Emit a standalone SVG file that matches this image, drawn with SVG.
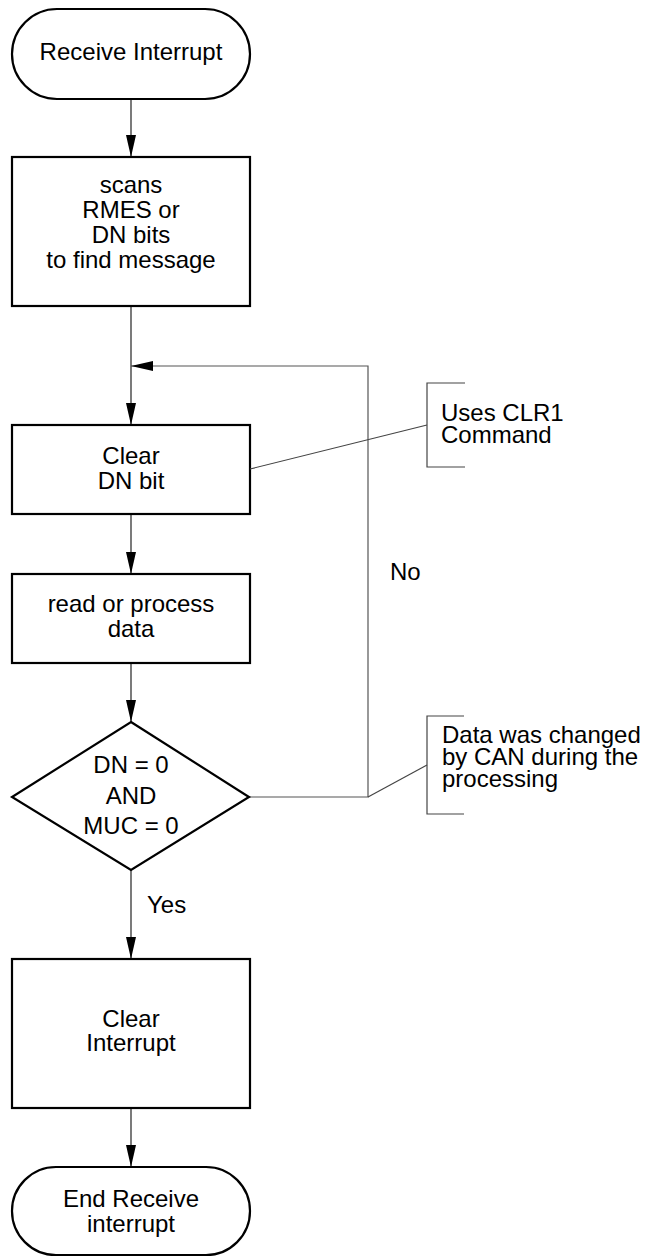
<svg xmlns="http://www.w3.org/2000/svg" width="650" height="1257" viewBox="0 0 650 1257">
<style>
.node{fill:#fff;stroke:#000;stroke-width:2.2}
.t{font-family:"Liberation Sans",Arial,sans-serif;font-size:24px;fill:#000}
.c{text-anchor:middle}
.ln{fill:none;stroke:#222;stroke-width:1.2}
.fb{fill:none;stroke:#555;stroke-width:1.2}
.br{fill:none;stroke:#444;stroke-width:1.2}
</style>
<defs>
<marker id="arr" markerUnits="userSpaceOnUse" markerWidth="24" markerHeight="12" refX="22" refY="5" orient="auto">
<path d="M0,0 L22,5 L0,10 Z" fill="#000"/>
</marker>
</defs>
<rect width="650" height="1257" fill="#fff"/>
<g id="connectors">
<line class="ln" x1="131" y1="99" x2="131" y2="157" marker-end="url(#arr)"/>
<line class="ln" x1="131" y1="306" x2="131" y2="425" marker-end="url(#arr)"/>
<polyline class="fb" points="249,797 368,797 368,366 131,366" marker-end="url(#arr)"/>
<line class="ln" x1="131" y1="514" x2="131" y2="574" marker-end="url(#arr)"/>
<line class="ln" x1="131" y1="663" x2="131" y2="722" marker-end="url(#arr)"/>
<line class="ln" x1="131" y1="870" x2="131" y2="959" marker-end="url(#arr)"/>
<line class="ln" x1="131" y1="1108" x2="131" y2="1167" marker-end="url(#arr)"/>
<text class="t" x="390" y="580">No</text>
<text class="t" x="147" y="913">Yes</text>
</g>
<g id="start">
<rect class="node" x="12" y="9" width="238" height="90" rx="45" ry="45"/>
<text class="t c" x="131" y="60">Receive Interrupt</text>
</g>
<g id="scan">
<rect class="node" x="12" y="157" width="238" height="149"/>
<text class="t c" x="131" y="193">scans</text>
<text class="t c" x="131" y="218">RMES or</text>
<text class="t c" x="131" y="243">DN bits</text>
<text class="t c" x="131" y="268">to find message</text>
</g>
<g id="clear-dn">
<rect class="node" x="12" y="425" width="238" height="89"/>
<text class="t c" x="131" y="464">Clear</text>
<text class="t c" x="131" y="489">DN bit</text>
</g>
<g id="read">
<rect class="node" x="12" y="574" width="238" height="89"/>
<text class="t c" x="131" y="612">read or process</text>
<text class="t c" x="131" y="637">data</text>
</g>
<g id="decision">
<polygon class="node" points="131,722 249,797 131,870 12,797"/>
<text class="t c" x="131" y="773">DN = 0</text>
<text class="t c" x="131" y="804">AND</text>
<text class="t c" x="131" y="834">MUC = 0</text>
</g>
<g id="clear-int">
<rect class="node" x="12" y="959" width="238" height="149"/>
<text class="t c" x="131" y="1027">Clear</text>
<text class="t c" x="131" y="1051">Interrupt</text>
</g>
<g id="end">
<rect class="node" x="12" y="1167" width="238" height="88" rx="44" ry="44"/>
<text class="t c" x="131" y="1207">End Receive</text>
<text class="t c" x="131" y="1232">interrupt</text>
</g>
<g id="note-clr1">
<line class="br" x1="250" y1="469" x2="427" y2="425"/>
<polyline class="br" points="465,383 427,383 427,467 465,467"/>
<text class="t" x="441" y="421">Uses CLR1</text>
<text class="t" x="441" y="443">Command</text>
</g>
<g id="note-data">
<line class="br" x1="368" y1="797" x2="427" y2="765"/>
<polyline class="br" points="464,716 427,716 427,814 464,814"/>
<text class="t" x="442" y="743">Data was changed</text>
<text class="t" x="442" y="765">by CAN during the</text>
<text class="t" x="442" y="787">processing</text>
</g>
</svg>
